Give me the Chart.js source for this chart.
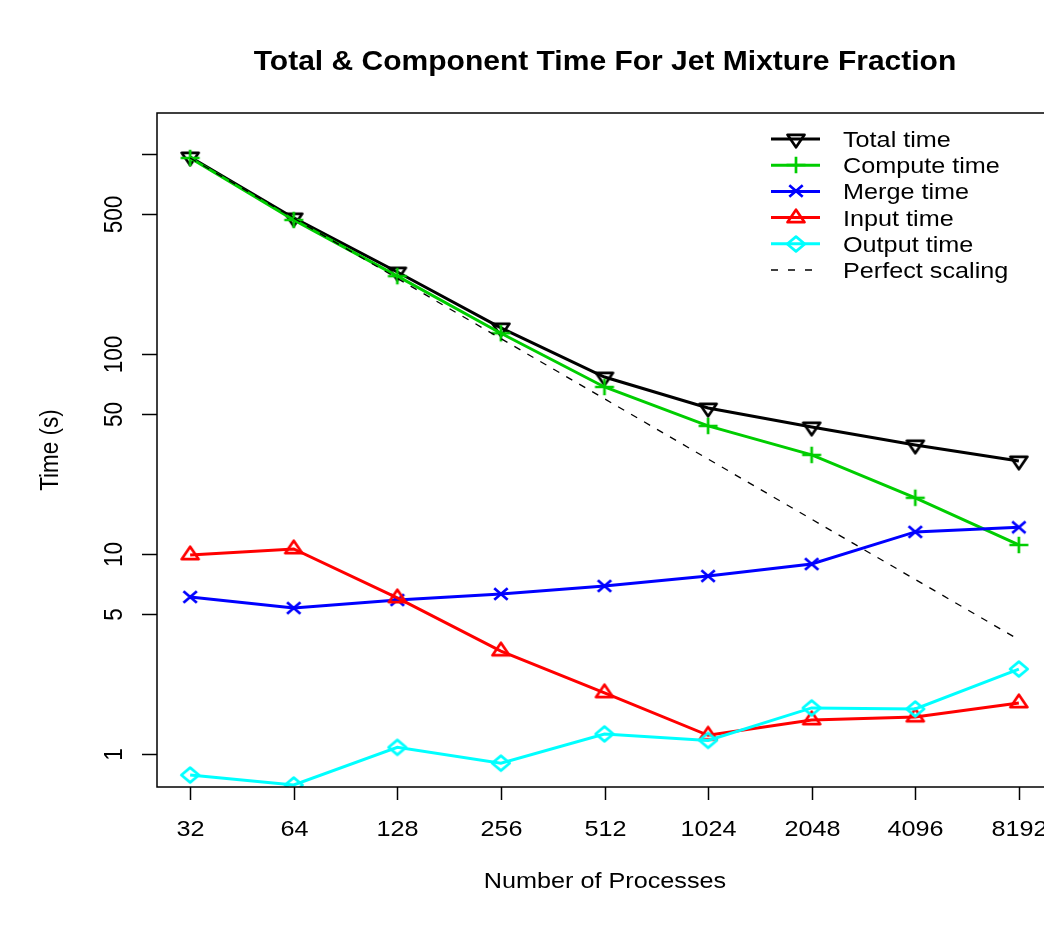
<!DOCTYPE html>
<html>
<head>
<meta charset="utf-8">
<title>Total & Component Time For Jet Mixture Fraction</title>
<script src="https://cdn.jsdelivr.net/npm/chart.js@4.4.1/dist/chart.umd.min.js"></script>
<style>
  html, body { margin: 0; padding: 0; background: #fff; overflow: hidden; }
  #wrap { width: 1100px; height: 930px; }
</style>
</head>
<body>
<div id="wrap"><canvas id="chart" width="1100" height="930"></canvas></div>
<script>
// --- Data ---
let procs = ["32", "64", "128", "256", "512", "1024", "2048", "4096", "8192"];

// seconds per run
let totalTime   = [966, 479, 257, 135, 76.7, 53.7, 43.2, 35.1, 29.2];
let computeTime = [955, 468, 245, 127, 68.4, 43.7, 31.3, 19.1, 11.1];
let mergeTime   = [6.1, 5.37, 5.89, 6.31, 6.92, 7.76, 8.91, 12.9, 13.6];
let inputTime   = [9.89, 10.6, 6.03, 3.27, 2.02, 1.24, 1.48, 1.53, 1.8];
let outputTime  = [0.785, 0.70, 1.08, 0.90, 1.26, 1.17, 1.70, 1.68, 2.66];
let perfectTime = [955, 477.5, 238.8, 119.4, 59.7, 29.84, 14.92, 7.46, 3.73];

let yTicks      = [1, 5, 10, 50, 100, 500, 1000];
let yTickLabels = ["1", "5", "10", "50", "100", "500", ""];

let FONT = '"Liberation Sans", Arial, Helvetica, sans-serif';
let TEXT_STRETCH = 1.12;

// --- Markers (R style open symbols) ---
function makeMarker(kind, color) {
  let c = document.createElement("canvas");
  c.width = 26;
  c.height = 24;
  let g = c.getContext("2d");
  let cx = 13, cy = 12;
  g.strokeStyle = color;
  g.lineWidth = 2.7;
  g.lineJoin = "round";
  g.beginPath();
  if (kind === "down") {
    g.moveTo(cx - 8.5, cy - 4.2);
    g.lineTo(cx + 8.5, cy - 4.2);
    g.lineTo(cx, cy + 8.3);
    g.closePath();
  } else if (kind === "up") {
    g.moveTo(cx, cy - 8.3);
    g.lineTo(cx + 8.5, cy + 4.2);
    g.lineTo(cx - 8.5, cy + 4.2);
    g.closePath();
  } else if (kind === "plus") {
    g.moveTo(cx - 9.5, cy); g.lineTo(cx + 9.5, cy);
    g.moveTo(cx, cy - 8.2); g.lineTo(cx, cy + 8.2);
  } else if (kind === "cross") {
    g.moveTo(cx - 6.7, cy - 5.7); g.lineTo(cx + 6.7, cy + 5.7);
    g.moveTo(cx - 6.7, cy + 5.7); g.lineTo(cx + 6.7, cy - 5.7);
  } else if (kind === "diamond") {
    g.moveTo(cx, cy - 7.4);
    g.lineTo(cx + 8.8, cy);
    g.lineTo(cx, cy + 7.4);
    g.lineTo(cx - 8.8, cy);
    g.closePath();
  }
  g.stroke();
  return c;
}

let series = [
  { label: "Total time",      data: totalTime,   color: "#000000", marker: "down" },
  { label: "Compute time",    data: computeTime, color: "#00cd00", marker: "plus" },
  { label: "Merge time",      data: mergeTime,   color: "#0000ff", marker: "cross" },
  { label: "Input time",      data: inputTime,   color: "#ff0000", marker: "up" },
  { label: "Output time",     data: outputTime,  color: "#00ffff", marker: "diamond" },
  { label: "Perfect scaling", data: perfectTime, color: "#000000", marker: null }
];

function toPoints(arr) {
  return arr.map((v, i) => ({ x: i, y: v }));
}

let datasets = series.map((s, i) => {
  let ds = {
    label: s.label,
    data: toPoints(s.data),
    borderColor: s.color,
    backgroundColor: s.color,
    tension: 0,
    fill: false,
    clip: 0,
    order: series.length - i
  };
  if (s.marker) {
    s.icon = makeMarker(s.marker, s.color);
    ds.borderWidth = 3;
    ds.pointStyle = s.icon;
    ds.pointRadius = 6;
  } else {
    ds.borderWidth = 1.3;
    ds.borderDash = [7, 8];
    ds.pointRadius = 0;
  }
  return ds;
});

// --- Text helper, slightly widened like the original device ---
function drawText(ctx, text, x, y, font, align, rotate) {
  ctx.save();
  ctx.translate(x, y);
  ctx.scale(TEXT_STRETCH, 1);
  if (rotate) ctx.rotate(-Math.PI / 2);
  ctx.font = font;
  ctx.textAlign = align || "center";
  ctx.textBaseline = "alphabetic";
  ctx.fillStyle = "#000";
  ctx.fillText(text, 0, 0);
  ctx.restore();
}

// --- Frame, ticks, titles ---
let axesPlugin = {
  id: "axesPlugin",
  afterDatasetsDraw(chart) {
    let ctx = chart.ctx;
    let a = chart.chartArea;
    let xs = chart.scales.x;
    let ys = chart.scales.y;

    ctx.save();
    ctx.strokeStyle = "#000";
    ctx.lineWidth = 1.5;
    ctx.setLineDash([]);
    ctx.strokeRect(a.left, a.top, a.right - a.left, a.bottom - a.top);

    // x ticks
    procs.forEach((p, i) => {
      let px = Math.round(xs.getPixelForValue(i)) + 0.5;
      ctx.beginPath();
      ctx.moveTo(px, a.bottom);
      ctx.lineTo(px, a.bottom + 13);
      ctx.stroke();
      drawText(ctx, p, px, 836, "22.5px " + FONT, "center");
    });

    // y ticks
    yTicks.forEach((v, i) => {
      let py = Math.round(ys.getPixelForValue(v)) + 0.5;
      ctx.beginPath();
      ctx.moveTo(a.left, py);
      ctx.lineTo(a.left - 15, py);
      ctx.stroke();
      if (yTickLabels[i]) drawText(ctx, yTickLabels[i], 122, py, "22.5px " + FONT, "center", true);
    });
    ctx.restore();

    drawText(ctx, "Total & Component Time For Jet Mixture Fraction", 605, 70, "bold 26.8px " + FONT, "center");
    drawText(ctx, "Number of Processes", 605, 888, "22.5px " + FONT, "center");
    drawText(ctx, "Time (s)", 58, (a.top + a.bottom) / 2, "22.5px " + FONT, "center", true);
  },
  afterDraw(chart) {
    // legend in the top right corner
    let ctx = chart.ctx;
    let rowY = 139, step = 26.2;
    series.forEach((s, i) => {
      let y = rowY + i * step;
      ctx.save();
      ctx.strokeStyle = s.color;
      if (s.marker) {
        ctx.lineWidth = 3;
        ctx.setLineDash([]);
      } else {
        ctx.lineWidth = 1.3;
        ctx.setLineDash([7, 10]);
      }
      ctx.beginPath();
      ctx.moveTo(771, y);
      ctx.lineTo(820, y);
      ctx.stroke();
      if (s.icon) ctx.drawImage(s.icon, 796 - s.icon.width / 2, Math.round(y) - s.icon.height / 2);
      ctx.restore();
      drawText(ctx, s.label, 843, y + 8, "22.5px " + FONT, "left");
    });
  }
};

// --- Chart ---
let ctx = document.getElementById("chart").getContext("2d");
window.myChart = new Chart(ctx, {
  type: "line",
  data: { datasets: datasets },
  options: {
    responsive: false,
    animation: false,
    layout: { padding: { left: 157, top: 113, right: 48, bottom: 143 } },
    plugins: {
      legend: { display: false },
      tooltip: { enabled: false }
    },
    scales: {
      x: { type: "linear", min: -0.32, max: 8.32, display: false },
      y: { type: "logarithmic", min: 0.684, max: 1603, display: false }
    }
  },
  plugins: [axesPlugin]
});
</script>
</body>
</html>
